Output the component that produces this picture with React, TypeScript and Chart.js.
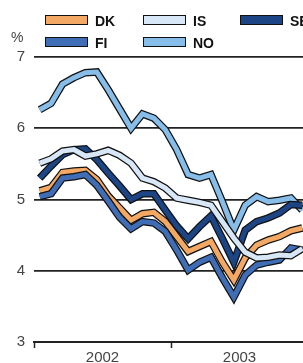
import React, { useEffect, useRef } from 'react';
import { Chart, registerables } from 'chart.js';

Chart.register(...registerables);

// Monthly data, Jan 2002 .. Dec 2003 (per cent)
const months = [
  '2002-01', '2002-02', '2002-03', '2002-04', '2002-05', '2002-06',
  '2002-07', '2002-08', '2002-09', '2002-10', '2002-11', '2002-12',
  '2003-01', '2003-02', '2003-03', '2003-04', '2003-05', '2003-06',
  '2003-07', '2003-08', '2003-09', '2003-10', '2003-11', '2003-12',
];
const yearLabels = ['2002', '2003'];
const yTicks = [3, 4, 5, 6, 7];

const DK = [5.12, 5.17, 5.38, 5.40, 5.41, 5.28, 5.05, 4.88, 4.71, 4.80, 4.82, 4.69,
  4.48, 4.27, 4.34, 4.41, 4.12, 3.87, 4.18, 4.36, 4.43, 4.48, 4.56, 4.60];
const FI = [5.04, 5.08, 5.30, 5.32, 5.35, 5.20, 4.98, 4.75, 4.59, 4.69, 4.67, 4.55,
  4.29, 4.01, 4.12, 4.19, 3.90, 3.63, 3.94, 4.08, 4.12, 4.15, 4.32, 4.29];
const IS = [5.51, 5.57, 5.68, 5.70, 5.61, 5.64, 5.69, 5.62, 5.51, 5.30, 5.25, 5.16,
  5.02, 4.99, 4.96, 4.92, 4.69, 4.46, 4.26, 4.18, 4.19, 4.22, 4.21, 4.31];
const NO = [6.26, 6.35, 6.62, 6.71, 6.78, 6.79, 6.54, 6.27, 6.00, 6.20, 6.14, 5.98,
  5.70, 5.35, 5.30, 5.35, 4.97, 4.57, 4.92, 5.04, 4.97, 4.99, 5.02, 4.85];
const SE = [5.30, 5.47, 5.63, 5.70, 5.71, 5.56, 5.37, 5.19, 5.00, 5.08, 5.08, 4.85,
  4.63, 4.45, 4.62, 4.77, 4.45, 4.12, 4.57, 4.69, 4.74, 4.81, 4.93, 4.92];

const COLORS: Record<string, string> = {
  DK: '#F3A863',
  FI: '#3F6DB6',
  IS: '#D7E7F7',
  NO: '#87BEE9',
  SE: '#1C4585',
};

// drawing order: bottom -> top
const drawOrder: [string, number[]][] = [
  ['NO', NO],
  ['SE', SE],
  ['DK', DK],
  ['FI', FI],
  ['IS', IS],
];

const legendItems = [
  { name: 'DK', left: 45, top: 15 },
  { name: 'IS', left: 143, top: 15 },
  { name: 'SE', left: 240, top: 15 },
  { name: 'FI', left: 45, top: 37 },
  { name: 'NO', left: 143, top: 37 },
];

const W = 312;
const H = 368;
const FONT = '"Liberation Sans", Arial, Helvetica, sans-serif';

export default function App() {
  const ref = useRef<HTMLCanvasElement | null>(null);

  useEffect(() => {
    if (!ref.current) return;
    const datasets: any[] = [];
    drawOrder.forEach(([name, vals], k) => {
      const pts = vals.map((v, i) => ({ x: i + 0.5, y: v }));
      datasets.push({
        label: name + ' outline',
        data: pts,
        borderColor: '#111',
        borderWidth: 7.5,
        pointRadius: 0,
        tension: 0,
        borderJoinStyle: 'miter',
        borderCapStyle: 'butt',
        fill: false,
        order: 100 - 2 * k,
      });
      datasets.push({
        label: name,
        data: pts,
        borderColor: COLORS[name],
        borderWidth: 5,
        pointRadius: 0,
        tension: 0,
        borderJoinStyle: 'miter',
        borderCapStyle: 'butt',
        fill: false,
        order: 99 - 2 * k,
      });
    });

    const chart = new Chart(ref.current, {
      type: 'line',
      data: { labels: months, datasets },
      options: {
        animation: false,
        responsive: false,
        devicePixelRatio: 1,
        layout: { padding: { top: 57, left: 0, right: 4, bottom: 0 } },
        plugins: { legend: { display: false }, tooltip: { enabled: false } },
        scales: {
          x: {
            type: 'linear',
            min: 0,
            max: months.length,
            afterFit: (s: any) => { s.height = 26; },
            afterBuildTicks: (s: any) => {
              s.ticks = [0, 6, 12, 18, 24].map((v) => ({ value: v }));
            },
            ticks: {
              autoSkip: false,
              maxRotation: 0,
              padding: 1,
              color: '#444',
              font: { family: FONT, size: 15 },
              callback: (v: any) => {
                const n = Number(v);
                if (n % 12 === 6) return yearLabels[(n - 6) / 12] ?? '';
                return '';
              },
            },
            grid: {
              drawOnChartArea: false,
              tickLength: 6,
              tickWidth: 1.5,
              tickColor: (ctx: any) => (ctx.tick && ctx.tick.value % 12 === 0 ? '#222' : 'rgba(0,0,0,0)'),
            },
            border: { display: true, color: '#222', width: 2 },
          },
          y: {
            min: 3,
            max: 7,
            afterFit: (s: any) => { s.width = 34; },
            afterBuildTicks: (s: any) => {
              s.ticks = yTicks.map((v) => ({ value: v }));
            },
            ticks: {
              padding: 9,
              color: '#444',
              font: { family: FONT, size: 15 },
            },
            grid: { color: '#222', lineWidth: 1.8, drawTicks: false },
            border: { display: false },
          },
        },
      },
    });
    return () => chart.destroy();
  }, []);

  return (
    <div style={{ position: 'absolute', left: 0, top: 0, width: W, height: H }}>
      <canvas ref={ref} width={W} height={H} style={{ position: 'absolute', left: 0, top: 0, width: W, height: H }} />
      <div style={{ position: 'absolute', left: 11, top: 30, fontFamily: FONT, fontSize: 14, lineHeight: '14px', color: '#444' }}>%</div>
      {legendItems.map((it) => (
        <React.Fragment key={it.name}>
          <div
            style={{
              position: 'absolute',
              left: it.left,
              top: it.top,
              width: 43,
              height: 10,
              boxSizing: 'border-box',
              border: '1.5px solid #111',
              background: COLORS[it.name],
            }}
          />
          <div
            style={{
              position: 'absolute',
              left: it.left + 50,
              top: it.top - 1,
              fontFamily: FONT,
              fontWeight: 'bold',
              fontSize: 14,
              lineHeight: '14px',
              color: '#111',
              whiteSpace: 'nowrap',
            }}
          >
            {it.name}
          </div>
        </React.Fragment>
      ))}
    </div>
  );
}
